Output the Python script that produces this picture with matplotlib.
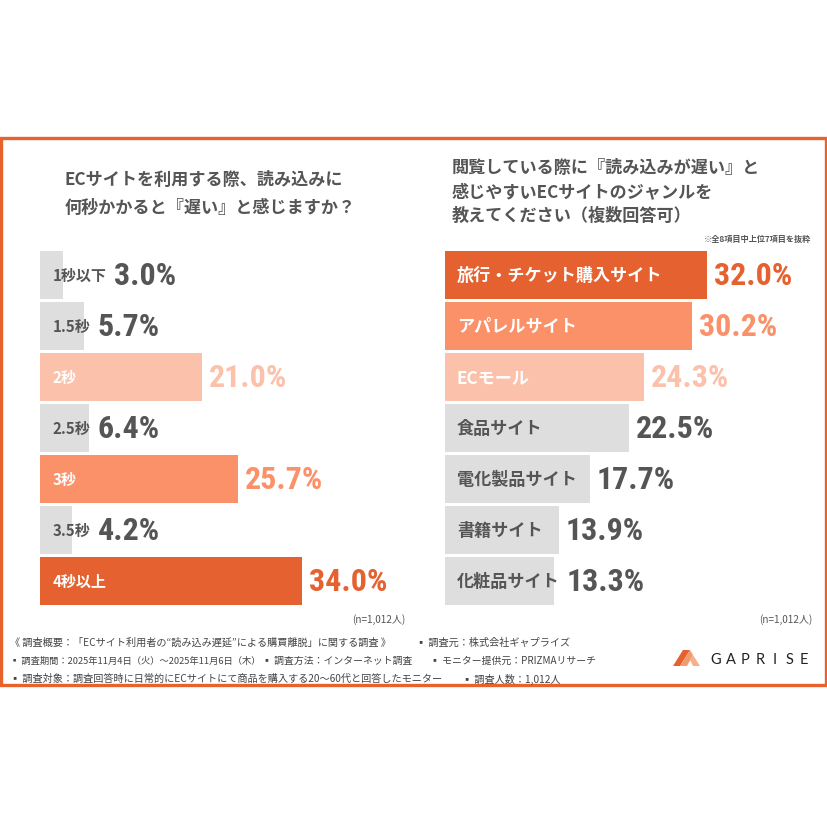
import matplotlib
matplotlib.use("Agg")
import matplotlib.pyplot as plt
from matplotlib.patches import Rectangle, Polygon

JP = ['Noto Sans CJK JP', 'DejaVu Sans']
NUM = ['Liberation Sans Narrow', 'Roboto Condensed', 'DejaVu Sans']
plt.rcParams['font.family'] = JP

# data
left_title = ["ECサイトを利用する際、読み込みに", "何秒かかると『遅い』と感じますか？"]
left_cats = ["1秒以下", "1.5秒", "2秒", "2.5秒", "3秒", "3.5秒", "4秒以上"]
left_vals = [3.0, 5.7, 21.0, 6.4, 25.7, 4.2, 34.0]

right_title = ["閲覧している際に『読み込みが遅い』と", "感じやすいECサイトのジャンルを", "教えてください（複数回答可）"]
right_note = "※全8項目中上位7項目を抜粋"
right_cats = ["旅行・チケット購入サイト", "アパレルサイト", "ECモール", "食品サイト",
              "電化製品サイト", "書籍サイト", "化粧品サイト"]
right_vals = [32.0, 30.2, 24.3, 22.5, 17.7, 13.9, 13.3]

n_label = "(n=1,012人)"
footer = [
    [(10, "《 調査概要：「ECサイト利用者の“読み込み遅延”による購買離脱」に関する調査 》", 7.3),
     (416, "▪ 調査元：株式会社ギャプライズ", 7.3)],
    [(10, "▪ 調査期間：2025年11月4日（火）～2025年11月6日（木）", 6.7),
     (262, "▪ 調査方法：インターネット調査", 7.1),
     (430, "▪ モニター提供元：PRIZMAリサーチ", 7.1)],
    [(10, "▪ 調査対象：調査回答時に日常的にECサイトにて商品を購入する20～60代と回答したモニター", 7.3),
     (462, "▪ 調査人数：1,012人", 7.3)],
]
logo_text = "GAPRISE"

DARK = "#E5612F"
MID = "#FA9169"
LIGHT = "#FCC1AA"
GRAY = "#DEDEDE"
TXT = "#555555"
left_colors = [GRAY, GRAY, LIGHT, GRAY, MID, GRAY, DARK]
right_colors = [DARK, MID, LIGHT, GRAY, GRAY, GRAY, GRAY]

W = 828
fig = plt.figure(figsize=(8.28, 8.28), dpi=100)
bg = fig.add_axes([0, 0, 1, 1])
bg.set_xlim(0, W)
bg.set_ylim(W, 0)
bg.axis('off')

# frame
bg.add_patch(Rectangle((1.5, 139), W - 3, 547, fill=False, edgecolor="#E8622E", lw=2.4))

# titles
for i, line in enumerate(left_title):
    bg.text(65, 180 + i * 28, line, fontsize=12.3, fontweight='bold', color=TXT, va='center')
for i, line in enumerate(right_title):
    bg.text(452, 168 + i * 24, line, fontsize=12.3, fontweight='bold', color=TXT, va='center')
bg.text(811, 239, right_note, fontsize=5.9, fontweight='bold', color=TXT, va='center', ha='right')

bg.text(405, 620, n_label, fontsize=7.2, color=TXT, va='center', ha='right')
bg.text(812, 620, n_label, fontsize=7.2, color=TXT, va='center', ha='right')

for row, items in enumerate(footer):
    for x, s, fs in items:
        bg.text(x, 643 + row * 18, s, fontsize=fs, color="#444444", va='center')

# logo
bg.add_patch(Polygon([(683, 651), (690, 651), (680, 667), (673, 667)], closed=True,
                     facecolor=DARK, edgecolor='none'))
bg.add_patch(Polygon([(690, 651), (693, 656), (687, 667), (680, 667)], closed=True,
                     facecolor="#F39A6E", edgecolor='none'))
bg.add_patch(Polygon([(693, 656), (700, 667), (693, 667), (690, 661)], closed=True,
                     facecolor="#F6B08A", edgecolor='none'))
for i, ch in enumerate(logo_text):
    bg.text(716 + i * 14.7, 660, ch, fontsize=10.5, color="#222222", va='center', ha='center',
            family=['Lato', 'DejaVu Sans'])

fig.canvas.draw()
renderer = fig.canvas.get_renderer()


def bar_panel(x0, scale, xmax, cats, vals, colors, label_dx, label_size):
    top, pitch = 250.5, 51.0
    h = pitch * len(cats)
    ax = fig.add_axes([x0 / W, (W - top - h) / W, scale * xmax / W, h / W])
    ax.set_xlim(0, xmax)
    ax.set_ylim(len(cats) - 0.5, -0.5)
    ax.axis('off')
    ys = list(range(len(cats)))
    ax.barh(ys, vals, height=0.94, color=colors)
    for y, c, v, col in zip(ys, cats, vals, colors):
        tc = 'white' if col != GRAY else TXT
        lab = ax.annotate(c, (0, y), xytext=(label_dx * 0.72, 0), textcoords='offset points',
                          fontsize=label_size, fontweight='bold', color=tc, va='center')
        fig.canvas.draw()
        lab_end = lab.get_window_extent(renderer).x1
        bar_end = ax.transData.transform((v, y))[0]
        xv = max(lab_end, bar_end) + 7
        xd = ax.transData.inverted().transform((xv, 0))[0]
        vc = col if col != GRAY else TXT
        ax.text(xd, y, f"{v:.1f}%", fontsize=23, fontweight='bold', color=vc,
                va='center', ha='left', family=NUM, clip_on=False)
    return ax


bar_panel(40, 7.7, 50, left_cats, left_vals, left_colors, 13, 10.8)
bar_panel(445, 8.19, 45, right_cats, right_vals, right_colors, 12, 12.3)

fig.savefig("out.png", dpi=100)
